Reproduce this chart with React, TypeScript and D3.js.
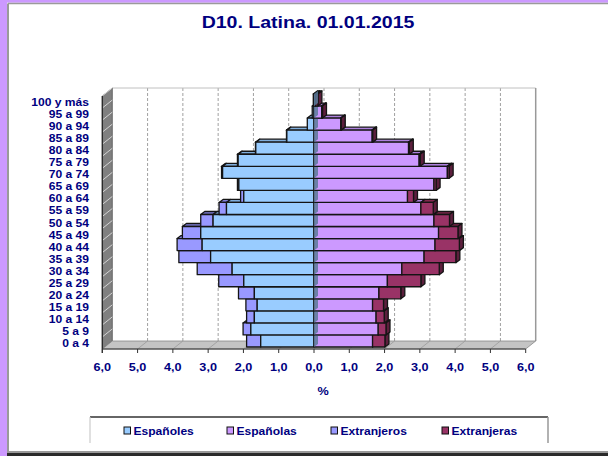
import React from "react";
import * as d3 from "d3";

const categories = ["0 a 4","5 a 9","10 a 14","15 a 19","20 a 24","25 a 29","30 a 34","35 a 39","40 a 44","45 a 49","50 a 54","55 a 59","60 a 64","65 a 69","70 a 74","75 a 79","80 a 84","85 a 89","90 a 94","95 a 99","100 y más"];
const espanoles = [1.51,1.79,1.69,1.61,1.69,1.99,2.32,2.93,3.17,3.21,2.86,2.48,1.99,2.13,2.59,2.15,1.65,0.77,0.19,0.05,0.02];
const extranjeros = [0.40,0.22,0.22,0.32,0.45,0.71,0.99,0.90,0.71,0.52,0.35,0.21,0.09,0.04,0.03,0.02,0.01,0.01,0,0,0];
const espanolas = [1.66,1.82,1.76,1.66,1.84,2.08,2.49,3.12,3.43,3.53,3.40,3.03,2.65,3.40,3.78,2.98,2.68,1.65,0.76,0.22,0.05];
const extranjeras = [0.35,0.22,0.23,0.31,0.62,0.95,1.06,0.90,0.69,0.55,0.44,0.35,0.17,0.06,0.05,0.03,0.02,0.01,0.01,0.02,0.06];
const xTicks = [-6,-5,-4,-3,-2,-1,0,1,2,3,4,5,6];
const title = "D10. Latina. 01.01.2015";
const seriesNames = ["Españoles","Españolas","Extranjeros","Extranjeras"];

const NAVY = "#000080";
const FONT = "'Liberation Sans', Arial, sans-serif";
const COLORS: Record<string, { front: string; top: string; side: string }> = {
  "Españoles": { front: "#99CCFF", top: "#80AEDD", side: "#5A7A99" },
  "Españolas": { front: "#CC99FF", top: "#AD80DD", side: "#7A5C99" },
  "Extranjeros": { front: "#9999FF", top: "#8080DD", side: "#5C5C99" },
  "Extranjeras": { front: "#993366", top: "#82294F", side: "#5C1F3D" },
};

const SX = 1.15;
function T(props: any) {
  const { x, y, children, ...rest } = props;
  return (
    <text transform={`translate(${x},${y}) scale(${SX},1)`} fontFamily={FONT} fontWeight="bold" fill={NAVY} {...rest}>
      {children}
    </text>
  );
}

export default function App() {
  const W = 608, H = 456;
  const x = d3.scaleLinear().domain([-6, 6]).range([102.3, 525.7]);
  const y = d3.scaleBand<string>().domain(categories).range([349, 96]).padding(0);
  const bw = y.bandwidth();
  const DX = 10, DY = 8;
  const bdx = 4, bdy = 3;
  const top = 96, bottom = 349;

  const bar = (x1: number, x2: number, yy: number, name: string, side: boolean, key: string) => {
    const c = COLORS[name];
    const l = Math.min(x1, x2), r = Math.max(x1, x2);
    if (r - l < 0.01) return null;
    const h = bw;
    return (
      <g key={key} stroke="#141414" strokeWidth={1.3} strokeLinejoin="round">
        <polygon points={`${l},${yy} ${l + bdx},${yy - bdy} ${r + bdx},${yy - bdy} ${r},${yy}`} fill={c.top} />
        {side && <polygon points={`${r},${yy} ${r + bdx},${yy - bdy} ${r + bdx},${yy + h - bdy} ${r},${yy + h}`} fill={c.side} />}
        <rect x={l} y={yy} width={r - l} height={h} fill={c.front} />
      </g>
    );
  };

  const rows = categories.map((cat, i) => {
    const yy = (y(cat) as number) - 2;
    const a = espanoles[i], b = extranjeros[i], c = espanolas[i], d = extranjeras[i];
    return (
      <g key={cat}>
        {bar(x(-a - b), x(-a), yy, "Extranjeros", false, "xo")}
        {bar(x(-a), x(0), yy, "Españoles", false, "eo")}
        {bar(x(0), x(c), yy, "Españolas", true, "ea")}
        {bar(x(c), x(c + d), yy, "Extranjeras", true, "xa")}
        {a > 0.01 && (
          <polygon
            points={`${x(0)},${yy} ${x(0) + bdx},${yy - bdy} ${x(0) + bdx},${yy + bw - bdy} ${x(0)},${yy + bw}`}
            fill={COLORS["Españoles"].side}
            opacity={0.85}
          />
        )}
      </g>
    );
  });

  const legendX = [124, 227, 331, 442];

  return (
    <svg width={W} height={H} style={{ position: "absolute", left: 0, top: 0, display: "block" }}>
      <rect x={0} y={0} width={W} height={H} fill="#fff" />
      <rect x={0} y={0} width={W} height={2.7} fill="#CC99FF" />
      <rect x={0} y={0} width={7} height={H} fill="#CC99FF" />
      <line x1={8} y1={3.4} x2={W} y2={3.4} stroke="#9a9a9a" strokeWidth={1.5} />
      <line x1={8} y1={3.4} x2={8} y2={451} stroke="#9a9a9a" strokeWidth={2} />
      <rect x={7} y={451} width={W} height={2} fill="#999" />
      <rect x={7} y={453} width={W} height={3} fill="#2a2a2a" />

      <T x={308} y={28} fontSize={17} textAnchor="middle">{title}</T>

      {/* back wall */}
      <rect x={x(-6) + DX} y={top - DY} width={x(6) - x(-6)} height={bottom - top} fill="#fff" />
      {xTicks.filter(v => v > -6 && v < 6).map(v => (
        <line key={"g" + v} x1={x(v) + DX} y1={top - DY} x2={x(v) + DX} y2={bottom - DY} stroke="#a0a0a0" strokeDasharray="3,2" />
      ))}
      <line x1={x(-6) + DX} y1={top - DY} x2={x(6) + DX} y2={top - DY} stroke="#c0c0c0" />
      <line x1={x(6) + DX} y1={top - DY} x2={x(6) + DX} y2={bottom - DY} stroke="#999" strokeWidth={1.5} />

      {/* left wall */}
      <polygon points={`${x(-6)},${top} ${x(-6) + DX},${top - DY} ${x(-6) + DX},${bottom - DY} ${x(-6)},${bottom}`} fill="#808080" stroke="#555" strokeWidth={0.8} />
      {categories.map(cat => {
        const yy = y(cat) as number;
        return <line key={"w" + cat} x1={x(-6)} y1={yy} x2={x(-6) + DX} y2={yy - DY} stroke="#e8e8e8" strokeWidth={0.8} />;
      })}

      {/* floor */}
      <polygon points={`${x(-6)},${bottom} ${x(-6) + DX},${bottom - DY} ${x(6) + DX},${bottom - DY} ${x(6)},${bottom}`} fill="#c4c4c4" stroke="#888" strokeWidth={0.8} />
      {xTicks.filter(v => v > -6 && v < 6).map(v => (
        <line key={"f" + v} x1={x(v)} y1={bottom} x2={x(v) + DX} y2={bottom - DY} stroke="#9a9a9a" strokeWidth={0.8} />
      ))}

      {rows}

      {/* axes */}
      <line x1={x(-6)} y1={top} x2={x(-6)} y2={bottom + 4} stroke="#222" strokeWidth={1.2} />
      <line x1={x(-6)} y1={bottom} x2={x(6)} y2={bottom} stroke="#333" strokeWidth={1.2} />
      {xTicks.map(v => (
        <g key={"t" + v}>
          <line x1={x(v)} y1={bottom} x2={x(v)} y2={bottom + 4} stroke="#333" />
          <T x={x(v)} y={371} fontSize={11} textAnchor="middle">{d3.format(".1f")(Math.abs(v)).replace(".", ",")}</T>
        </g>
      ))}
      {categories.map(cat => (
        <T key={"l" + cat} x={89} y={(y(cat) as number) + bw / 2 + 4} fontSize={10.5} textAnchor="end">{cat}</T>
      ))}
      <T x={323} y={395} fontSize={11} textAnchor="middle">%</T>

      {/* legend */}
      <line x1={90} y1={417} x2={548} y2={417} stroke="#333" strokeWidth={1.5} />
      <line x1={90} y1={417} x2={90} y2={443} stroke="#ccc" strokeWidth={1.2} />
      <line x1={548} y1={417} x2={548} y2={443} stroke="#999" strokeWidth={1.5} />
      {seriesNames.map((n, i) => (
        <g key={"lg" + n}>
          <rect x={legendX[i]} y={427} width={6.5} height={7} fill={COLORS[n].front} stroke="#111" strokeWidth={1} />
          <T x={legendX[i] + 9.5} y={434.5} fontSize={10.5}>{n}</T>
        </g>
      ))}
    </svg>
  );
}
